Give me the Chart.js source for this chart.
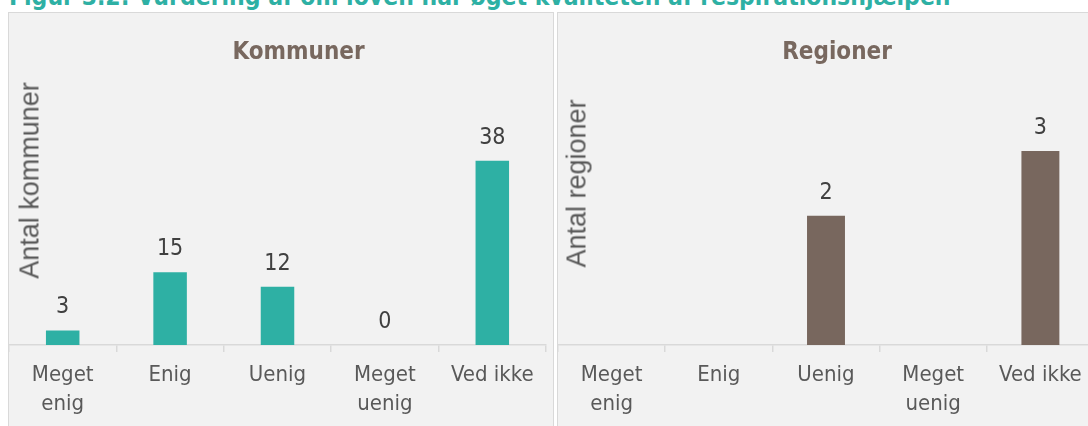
<!DOCTYPE html>
<html>
<head>
<meta charset="utf-8">
<script src="https://cdn.jsdelivr.net/npm/chart.js@4"></script>
<style>
html, body { margin:0; padding:0; width:1088px; height:426px; overflow:hidden; background:#ffffff; }
#wrap { position:relative; width:1088px; height:426px; overflow:hidden; }
.title { position:absolute; left:9px; top:-14.7px; font-family:'DejaVu Sans Condensed','Liberation Sans',sans-serif; font-weight:bold; font-size:24.5px; line-height:24.5px; color:#2eb0a4; white-space:nowrap; }
.panel { position:absolute; top:12px; height:440px; box-sizing:border-box; border:1px solid #d9d9d9; background:#f2f2f2; }
.ptitle { position:absolute; width:300px; text-align:center; font-family:'DejaVu Sans Condensed','Liberation Sans',sans-serif; font-weight:bold; font-size:24px; line-height:24px; color:#78685f; white-space:nowrap; }
.ytitle { position:absolute; width:300px; height:27px; text-align:center; font-family:'Liberation Sans',sans-serif; font-size:27px; line-height:27px; color:#595959; white-space:nowrap; transform:rotate(-90deg); transform-origin:150px 13.5px; }
canvas { position:absolute; top:13px; }
</style>
</head>
<body>
<div id="wrap">
  <div class="title" id="mainTitle"></div>
  <div class="panel" style="left:8px; width:546px;"></div>
  <div class="panel" style="left:557px; width:600px;"></div>
  <canvas id="c1" width="544" height="413" style="left:9px;"></canvas>
  <canvas id="c2" width="540" height="413" style="left:558px;"></canvas>
  <div class="ptitle" id="t1" style="left:148.5px; top:39.2px;"></div>
  <div class="ptitle" id="t2" style="left:687px; top:39.2px;"></div>
  <div class="ytitle" id="y1" style="left:-120px; top:167px;"></div>
  <div class="ytitle" id="y2" style="left:427.4px; top:169.5px;"></div>
</div>
<script>
const figureTitle = 'Figur 3.2: Vurdering af om loven har øget kvaliteten af respirationshjælpen';
const panelTitles = ['Kommuner', 'Regioner'];
const axisTitles = ['Antal kommuner', 'Antal regioner'];
const categories = [['Meget', 'enig'], 'Enig', 'Uenig', ['Meget', 'uenig'], 'Ved ikke'];
const kommunerValues = [3, 15, 12, 0, 38];
const regionerValues = [null, null, 2, null, 3];
const kommunerMax = 40;
const regionerMax = 3;

document.getElementById('mainTitle').textContent = figureTitle;
document.getElementById('t1').textContent = panelTitles[0];
document.getElementById('t2').textContent = panelTitles[1];
document.getElementById('y1').textContent = axisTitles[0];
document.getElementById('y2').textContent = axisTitles[1];

const FONT = "'DejaVu Sans Condensed', 'Liberation Sans', sans-serif";

const valueLabels = {
  id: 'valueLabels',
  afterDatasetsDraw(chart) {
    const ctx = chart.ctx;
    ctx.save();
    ctx.font = '23px ' + FONT;
    ctx.fillStyle = '#404040';
    ctx.textAlign = 'center';
    ctx.textBaseline = 'alphabetic';
    chart.data.datasets.forEach((ds, di) => {
      const meta = chart.getDatasetMeta(di);
      meta.data.forEach((el, i) => {
        const v = ds.data[i];
        if (v === null || v === undefined) return;
        ctx.fillText(String(v), el.x, el.y - 17);
      });
    });
    ctx.restore();
  }
};

function makeChart(id, values, color, maxV, barPct) {
  return new Chart(document.getElementById(id), {
    type: 'bar',
    data: {
      labels: categories,
      datasets: [{ data: values, backgroundColor: color, borderWidth: 0, barPercentage: barPct, categoryPercentage: 1 }]
    },
    options: {
      responsive: false,
      animation: false,
      devicePixelRatio: 1,
      layout: { padding: { top: 138, left: 0, right: id === 'c1' ? 7 : 4, bottom: 0 } },
      plugins: { legend: { display: false }, tooltip: { enabled: false } },
      scales: {
        x: {
          afterFit: (s) => { s.height = 81; },
          grid: { drawOnChartArea: false, drawTicks: true, tickLength: 7, color: '#d9d9d9', lineWidth: 1.5 },
          border: { display: true, color: '#d9d9d9', width: 1.5 },
          ticks: { color: '#595959', padding: 9, font: { family: FONT, size: 22, lineHeight: 1.3 }, maxRotation: 0, autoSkip: false }
        },
        y: { display: false, min: 0, max: maxV }
      }
    },
    plugins: [valueLabels]
  });
}

makeChart('c1', kommunerValues, '#2eb0a4', kommunerMax, 0.312);
makeChart('c2', regionerValues, '#78675e', regionerMax, 0.354);
</script>
</body>
</html>
